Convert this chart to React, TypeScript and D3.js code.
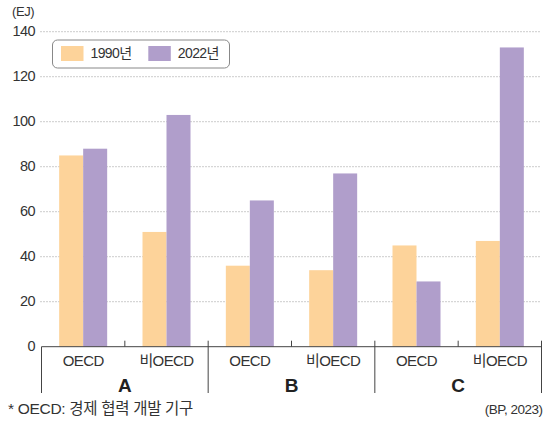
import React from 'react';
import * as d3 from 'd3';

const groups = ['A', 'B', 'C'];
const regions = ['OECD', '비OECD'];
const seriesNames = ['1990년', '2022년'];
const values1990 = [85, 51, 36, 34, 45, 47];
const values2022 = [88, 103, 65, 77, 29, 133];
const yTicks = [0, 20, 40, 60, 80, 100, 120, 140];
const colors = ['#FDD39A', '#B09ECB'];

const W = 549;
const H = 422;
const left = 41.5;
const right = 541.5;
const top = 31.7;
const bottom = 346.7;
const font = '"Liberation Sans", Arial, "Noto Sans CJK KR", sans-serif';

const App = () => {
  const cats = groups.flatMap((g) => regions.map((r) => `${g}-${r}`));
  const x = d3.scaleBand().domain(cats).range([left, right]).paddingInner(0.424).paddingOuter(0.212);
  const xs = d3.scaleBand().domain(seriesNames).range([0, x.bandwidth()]);
  const xg = d3.scaleBand().domain(groups).range([left, right]);
  const y = d3.scaleLinear().domain([0, 140]).range([bottom, top]);

  const series = [values1990, values2022];

  return (
    <svg width={W} height={H} style={{ position: 'absolute', left: 0, top: 0, fontFamily: font }}>
      <rect width={W} height={H} fill="#fff" />
      <text x={12} y={13} fontSize={13} fill="#333" dominantBaseline="middle" letterSpacing={-0.4}>(EJ)</text>
      {yTicks.map((t) => (
        <g key={t}>
          {t > 0 && (
            <line x1={left - 1} x2={right} y1={y(t)} y2={y(t)} stroke="#999" strokeDasharray="1,2" />
          )}
          <text x={35} y={y(t)} textAnchor="end" dominantBaseline="middle" fontSize={14.5} fill="#333" letterSpacing={-0.6}>
            {t}
          </text>
        </g>
      ))}
      {cats.map((c, i) =>
        series.map((vals, s) => (
          <rect
            key={`${c}-${s}`}
            x={(x(c) as number) + (xs(seriesNames[s]) as number)}
            width={xs.bandwidth()}
            y={y(vals[i])}
            height={y(0) - y(vals[i])}
            fill={colors[s]}
          />
        ))
      )}
      <line x1={left} x2={right} y1={bottom} y2={bottom} stroke="#444" />
      {groups.map((g) => {
        const gx = xg(g) as number;
        return (
          <g key={g}>
            <line x1={gx + xg.bandwidth() / 2} x2={gx + xg.bandwidth() / 2} y1={bottom - 6} y2={bottom} stroke="#444" />
            <text x={gx + xg.bandwidth() / 2} y={386.5} textAnchor="middle" dominantBaseline="middle" fontSize={19} fontWeight="bold" fill="#222">
              {g}
            </text>
          </g>
        );
      })}
      {d3.range(groups.length + 1).map((k) => {
        const lx = left + k * xg.step();
        return <line key={k} x1={lx} x2={lx} y1={k === 0 ? bottom : bottom - 6} y2={393} stroke="#444" />;
      })}
      {cats.map((c, i) => (
        <text key={c} x={(x(c) as number) + x.bandwidth() / 2} y={362} textAnchor="middle" dominantBaseline="middle" fontSize={15} fill="#333" letterSpacing={-0.6}>
          {regions[i % 2]}
        </text>
      ))}
      <g>
        <rect x={52.5} y={40} width={177} height={28} rx={5} fill="#fff" stroke="#888" />
        {seriesNames.map((n, s) => {
          const sx = s === 0 ? 61 : 148.3;
          return (
            <g key={n}>
              <rect x={sx} y={46} width={22.5} height={15} fill={colors[s]} />
              <text x={sx + 29.5} y={54} dominantBaseline="middle" fontSize={14} fill="#333" letterSpacing={-0.6}>
                {n}
              </text>
            </g>
          );
        })}
      </g>
      <text x={8} y={410} dominantBaseline="middle" fontSize={15.5} fill="#333" letterSpacing={-0.3}>
        * OECD: 경제 협력 개발 기구
      </text>
      <text x={542.5} y={410} textAnchor="end" dominantBaseline="middle" fontSize={13.5} fill="#333" letterSpacing={-0.5}>
        (BP, 2023)
      </text>
    </svg>
  );
};

export default App;
